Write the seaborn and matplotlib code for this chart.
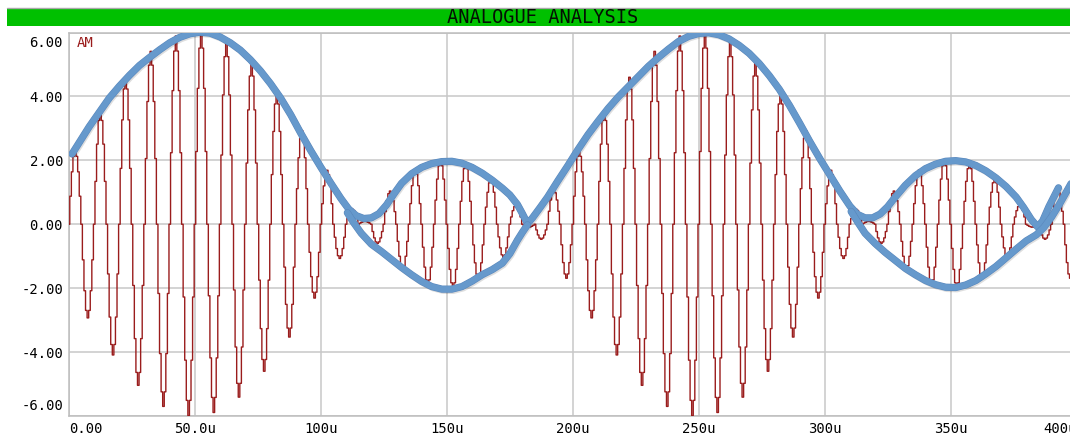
import matplotlib
matplotlib.use("Agg")
import matplotlib.pyplot as plt
import pandas as pd
import seaborn as sns
from matplotlib import patheffects as pe
from matplotlib.patches import Rectangle
from matplotlib.lines import Line2D
from matplotlib.ticker import MultipleLocator
from matplotlib.transforms import offset_copy

# ---------------- data ----------------
# AM trace: time of every carrier extremum (one per 5 us) and its value
am_peak_time_us = [
    2.5, 7.5, 12.5, 17.5, 22.5, 27.5, 32.5, 37.5, 42.5, 47.5,
    52.5, 57.5, 62.5, 67.5, 72.5, 77.5, 82.5, 87.5, 92.5, 97.5,
    102.5, 107.5, 112.5, 117.5, 122.5, 127.5, 132.5, 137.5, 142.5, 147.5,
    152.5, 157.5, 162.5, 167.5, 172.5, 177.5, 182.5, 187.5, 192.5, 197.5,
    202.5, 207.5, 212.5, 217.5, 222.5, 227.5, 232.5, 237.5, 242.5, 247.5,
    252.5, 257.5, 262.5, 267.5, 272.5, 277.5, 282.5, 287.5, 292.5, 297.5,
    302.5, 307.5, 312.5, 317.5, 322.5, 327.5, 332.5, 337.5, 342.5, 347.5,
    352.5, 357.5, 362.5, 367.5, 372.5, 377.5, 382.5, 387.5, 392.5, 397.5,
]
am_peak_volts = [
    2.31, -2.93, 3.53, -4.09, 4.60, -5.04, 5.41, -5.70, 5.89, -5.99,
    5.99, -5.89, 5.70, -5.41, 5.04, -4.60, 4.09, -3.53, 2.93, -2.31,
    1.69, -1.07, 0.47, 0.09, -0.60, 1.04, -1.41, 1.70, -1.89, 1.99,
    -1.99, 1.89, -1.70, 1.41, -1.04, 0.60, -0.09, -0.47, 1.07, -1.69,
    2.31, -2.93, 3.53, -4.09, 4.60, -5.04, 5.41, -5.70, 5.89, -5.99,
    5.99, -5.89, 5.70, -5.41, 5.04, -4.60, 4.09, -3.53, 2.93, -2.31,
    1.69, -1.07, 0.47, 0.09, -0.60, 1.04, -1.41, 1.70, -1.89, 1.99,
    -1.99, 1.89, -1.70, 1.41, -1.04, 0.60, -0.09, -0.47, 1.07, -1.69,
]
# shape of one carrier half-cycle around its extremum (sample offsets in us, fraction of peak)
carrier_offset_us = [-2.5, -1.875, -1.25, -0.625, 0.0, 0.625, 1.25, 1.875]
carrier_shape = [0.0, 0.38, 0.71, 0.92, 1.0, 0.92, 0.71, 0.38]
am_end_time_us = 400.0
am_end_volts = 0.0

# hand-drawn envelope strokes (blue)
env_upper_t = [1.2, 4, 8, 12, 16, 20, 24, 28, 32, 36, 40, 44, 48, 52, 56, 60, 64, 68, 72, 76,
               80, 84, 88, 92, 96, 100, 104, 108, 111, 114, 117, 120, 123, 126, 129, 132, 136, 140,
               144, 148, 152, 156, 160, 164, 168, 172, 175, 178, 180, 182, 184, 187, 190, 194, 198,
               202, 206, 210, 214, 218, 222, 226, 230, 234, 238, 242, 246, 250, 254, 258, 262, 266,
               270, 274, 278, 282, 286, 290, 294, 298, 302, 306, 310, 313, 316, 319, 322, 325, 328,
               332, 336, 340, 344, 348, 352, 356, 360, 364, 368, 372, 376, 379, 382, 384.5, 386.5,
               389, 392.8]
env_upper_v = [2.20, 2.55, 3.05, 3.50, 3.95, 4.32, 4.66, 4.97, 5.22, 5.46, 5.68, 5.85, 5.96, 6.01,
               5.98, 5.86, 5.68, 5.45, 5.15, 4.80, 4.40, 3.95, 3.43, 2.85, 2.30, 1.78, 1.28, 0.80,
               0.48, 0.27, 0.18, 0.20, 0.33, 0.60, 0.95, 1.28, 1.58, 1.78, 1.90, 1.96, 1.97, 1.91,
               1.78, 1.60, 1.38, 1.13, 0.92, 0.62, 0.33, 0.02, 0.20, 0.52, 0.85, 1.35, 1.83, 2.33,
               2.80, 3.22, 3.62, 3.98, 4.30, 4.62, 4.94, 5.22, 5.48, 5.72, 5.88, 5.97, 5.99, 5.93,
               5.80, 5.60, 5.35, 5.03, 4.65, 4.22, 3.72, 3.17, 2.60, 2.06, 1.55, 1.04, 0.57, 0.31,
               0.20, 0.20, 0.32, 0.55, 0.85, 1.22, 1.52, 1.74, 1.88, 1.97, 1.99, 1.95, 1.84, 1.67,
               1.45, 1.18, 0.85, 0.52, 0.15, -0.08, 0.10, 0.55, 1.14]

env_lower1_t = [110.5, 113, 116, 120, 124, 128, 132, 136, 140, 144, 148, 152, 156, 160, 164,
                168, 172, 175, 178, 180, 182]
env_lower1_v = [0.36, 0.05, -0.28, -0.62, -0.85, -1.10, -1.35, -1.58, -1.79, -1.95, -2.03,
                -2.03, -1.95, -1.78, -1.58, -1.42, -1.22, -0.92, -0.50, -0.25, -0.02]

env_lower2_t = [310.5, 313, 316, 320, 324, 328, 332, 336, 340, 344, 348, 352, 356, 360, 364,
                368, 372, 376, 380, 384, 387, 390, 393, 396, 398, 400]
env_lower2_v = [0.40, 0.08, -0.28, -0.60, -0.88, -1.13, -1.38, -1.58, -1.76, -1.89, -1.97,
                -1.98, -1.90, -1.76, -1.55, -1.32, -1.05, -0.78, -0.52, -0.33, -0.10, 0.22,
                0.60, 1.02, 1.30, 1.55]

x_tick_values = [0, 50, 100, 150, 200, 250, 300, 350, 400]
x_tick_labels = ["0.00", "50.0u", "100u", "150u", "200u", "250u", "300u", "350u", "400u"]
y_tick_values = [6, 4, 2, 0, -2, -4, -6]
y_tick_labels = ["6.00", "4.00", "2.00", "0.00", "-2.00", "-4.00", "-6.00"]

title_text = "ANALOGUE ANALYSIS"
trace_name = "AM"

# ---------------- assemble AM trace ----------------
rows = []
for tp, vp in zip(am_peak_time_us, am_peak_volts):
    for off, sh in zip(carrier_offset_us, carrier_shape):
        rows.append((tp + off, vp * sh))
rows.append((am_end_time_us, am_end_volts))
am = pd.DataFrame(rows, columns=["time_us", "volts"])

# ---------------- styling ----------------
sns.set_style("white")
plt.rcParams["font.family"] = ["DejaVu Sans Mono", "DejaVu Sans"]

RED = "#9A1C1C"
BLUE = "#6699CC"
BLUE_EDGE = "#5A88BD"
GRID = "#c8c8c8"

W, H = 1070, 438
fig = plt.figure(figsize=(W / 100, H / 100), dpi=100)
fig.patch.set_facecolor("white")

ax_left, ax_right, ax_top, ax_bottom = 69, 1076.6, 32.5, 416
ax = fig.add_axes([ax_left / W, (H - ax_bottom) / H,
                   (ax_right - ax_left) / W, (ax_bottom - ax_top) / H])
ax.set_facecolor("white")

# red AM trace (Proteus draws the sampled trace as a staircase)
sns.lineplot(data=am, x="time_us", y="volts", ax=ax, color=RED, linewidth=1.0,
             estimator=None, sort=False, zorder=3, drawstyle="steps-mid")

# blue envelope strokes
env_fx = [pe.SimpleLineShadow(offset=(1.0, -1.3), shadow_color="black", alpha=0.13,
                              joinstyle="round", capstyle="round"),
          pe.Stroke(linewidth=5.2, foreground=BLUE_EDGE, joinstyle="round", capstyle="round"),
          pe.Normal()]
for et, ev in [(env_upper_t, env_upper_v), (env_lower1_t, env_lower1_v),
               (env_lower2_t, env_lower2_v)]:
    sns.lineplot(x=et, y=ev, ax=ax, color=BLUE, linewidth=4.4, estimator=None,
                 sort=False, zorder=4, solid_capstyle="round",
                 solid_joinstyle="round", path_effects=env_fx)

ax.set_xlim(0, 400)
ax.set_ylim(-6, 6)
ax.set_xlabel("")
ax.set_ylabel("")

ax.set_xticks(x_tick_values)
ax.set_xticklabels(x_tick_labels)
ax.set_yticks(y_tick_values)
ax.set_yticklabels(y_tick_labels)
ax.xaxis.set_minor_locator(MultipleLocator(5))
ax.yaxis.set_minor_locator(MultipleLocator(0.2))

ax.grid(True, which="major", color=GRID, linewidth=1.1)
ax.set_axisbelow(True)
ax.tick_params(which="both", direction="in", color="#b0b0b0")
ax.tick_params(which="minor", length=4, width=0.8)
ax.tick_params(which="major", length=0, labelsize=10, pad=4.3, labelcolor="black")

for side in ["left", "bottom", "top", "right"]:
    ax.spines[side].set_color("#bdbdbd")
    ax.spines[side].set_linewidth(1.1)

# Proteus-style placement of end labels
ylabs = ax.get_yticklabels()
ylabs[0].set_verticalalignment("top")
ylabs[0].set_transform(offset_copy(ylabs[0].get_transform(), fig=fig, y=-3.5, units="dots"))
ylabs[-1].set_verticalalignment("bottom")
ylabs[-1].set_transform(offset_copy(ylabs[-1].get_transform(), fig=fig, y=3, units="dots"))
xlabs = ax.get_xticklabels()
xlabs[0].set_horizontalalignment("left")
xlabs[-1].set_horizontalalignment("right")

# trace name
ax.text(8 / (ax_right - ax_left), 1 - 3.5 / (ax_bottom - ax_top), trace_name,
        transform=ax.transAxes, ha="left", va="top", color=RED, fontsize=10)

# title bar
fig.add_artist(Rectangle((7 / W, (H - 26) / H), 1.05, 17 / H,
                         transform=fig.transFigure, facecolor="#00C000",
                         edgecolor="none"))
fig.add_artist(Line2D([7 / W, 1.05], [(H - 8) / H] * 2, transform=fig.transFigure,
                      color="#a8a8a8", linewidth=1.0))
fig.text(543 / W, (H - 17.5) / H, title_text, ha="center", va="center",
         fontsize=13.5, color="#041004")

fig.savefig("out.png", dpi=100)
